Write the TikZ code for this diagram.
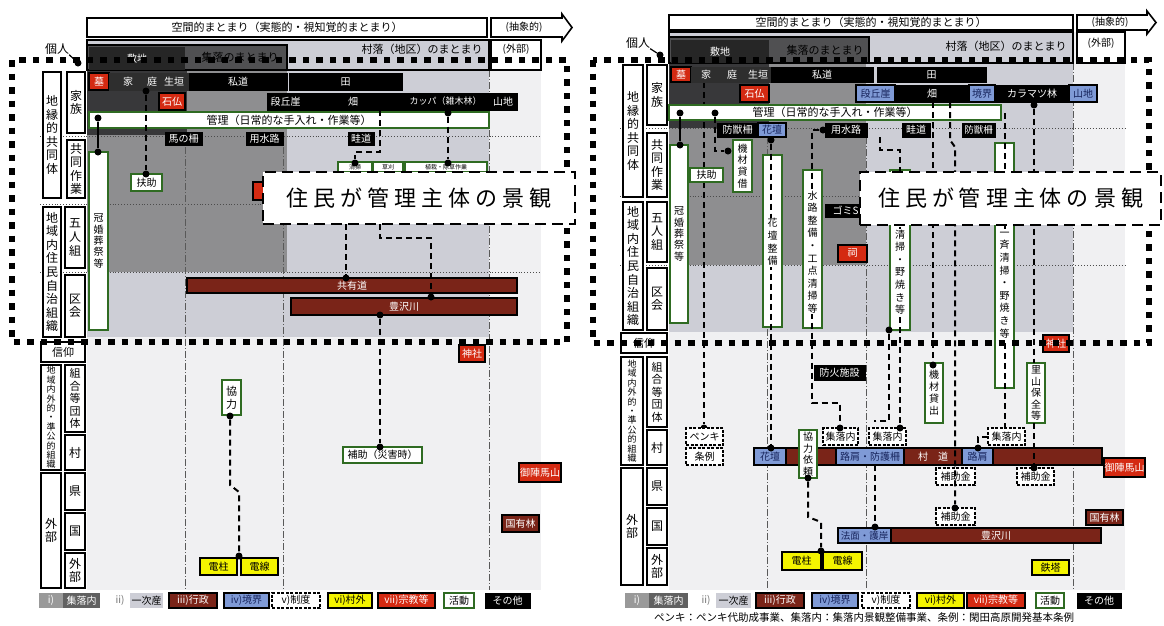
\documentclass[tikz,border=0pt]{standalone}
\usepackage{fontspec}
\setmainfont{Noto Sans CJK JP}
\definecolor{lg}{HTML}{CDCED6}
\definecolor{mg}{HTML}{8E8E90}
\definecolor{dg}{HTML}{505052}
\definecolor{ddg}{HTML}{38383A}
\definecolor{vlg}{HTML}{F0F0F2}
\definecolor{rd}{HTML}{D42A12}
\definecolor{drd}{HTML}{7A2418}
\definecolor{bl}{HTML}{7F9AD6}
\definecolor{bltx}{HTML}{17245C}
\definecolor{yl}{HTML}{F4F400}
\definecolor{gr}{HTML}{2F6B22}
\newcommand\fsm{\fontsize{10}{11}\selectfont}
\newcommand\fmd{\fontsize{11}{12}\selectfont}
\newcommand\flab{\fontsize{12}{13.6}\selectfont}
\newcommand\ftitle{\fontsize{22}{24}\selectfont}
\newcommand\kk{\kern5pt}
\newcommand\titletext{住\kk 民\kk が\kk 管\kk 理\kk 主\kk 体\kk の\kk 景\kk 観}
\makeatletter
\def\vt#1{\vbox{\vt@b#1\@nil}}
\def\vt@b#1{\ifx\@nil#1\else\hbox to 1em{\hss#1\hss}\expandafter\vt@b\fi}
\makeatother
\newcommand\bx[7]{\node[#2, minimum width={(#5-#3)*1pt}, minimum height={(#6-#4)*1pt}] (#1) at ({(#3+#5)/2},{(#4+#6)/2}) {#7};}
\tikzset{
 base/.style={inner sep=0pt, outer sep=0pt, font=\fsm},
 blk/.style={base, fill=black, draw=black, line width=1pt, text=white},
 darkb/.style={base, fill=black!82, draw=black!82, text=white},
 redb/.style={base, fill=rd, draw=black, line width=1.2pt, text=white},
 drb/.style={base, fill=drd, draw=black, line width=1.8pt, text=white},
 blub/.style={base, fill=bl, draw=black, line width=1.2pt, text=bltx},
 yelb/.style={base, fill=yl, draw=black, line width=1.8pt, text=black},
 grnb/.style={base, fill=white, draw=gr, line width=1.6pt, text=black},
 seib/.style={base, fill=white, draw=black, line width=1.5pt, dash pattern=on 3pt off 1.5pt, text=black},
 labb/.style={base, fill=white, draw=black, line width=1.6pt, text=black, font=\flab},
 dot/.style={circle, fill=black, inner sep=0pt, minimum size=7pt},
 conn/.style={line width=2pt, dash pattern=on 6pt off 4pt},
 sconn/.style={line width=1.8pt},
 gridh/.style={line width=0.9pt, dotted, black!70},
 gridv/.style={line width=0.8pt, black!65, dash pattern=on 7pt off 2pt on 1pt off 2pt},
 border/.style={line width=6.5pt, dash pattern=on 6.5pt off 7pt},
 callout/.style={fill=white, draw=black, line width=2.8pt, dash pattern=on 11pt off 6pt},
 txt/.style={inner sep=0pt, font=\fmd},
 wt/.style={inner sep=0pt, font=\fsm, text=white},
 ovl/.style={inner sep=1pt, fill=white, font=\fontsize{10}{12.6}\selectfont},
 outl/.style={line width=1.6pt},
}
\begin{document}
\begin{tikzpicture}[x=1pt,y=-1pt]
\useasboundingbox (0,0) rectangle (1164,625);
\fill[white] (0,0) rectangle (1164,625);
% ================= backgrounds =================
\fill[vlg] (87,40) rectangle (541,590);
\fill[lg] (87,40) rectangle (489,337);
\fill[mg] (87,70) rectangle (287,272);
\fill[dg] (87,45) rectangle (287,70);
\fill[ddg] (87,70) rectangle (187,135);
\fill[vlg] (669,32) rectangle (1125,590);
\fill[lg] (669,32) rectangle (1073,332);
\fill[mg] (669,63) rectangle (866,265);
\fill[dg] (669,37) rectangle (869,63);
\fill[ddg] (669,63) rectangle (769,128);
% ================= grid =================
\draw[gridh] (40,136) -- (541,136);
\draw[gridh] (40,204) -- (541,204);
\draw[gridh] (40,272) -- (541,272);
\draw[gridv] (185,135) -- (185,590);
\draw[gridv] (283,135) -- (283,590);
\draw[gridv] (489,70) -- (489,590);
\draw[gridh] (620,128) -- (1125,128);
\draw[gridh] (620,196) -- (1125,196);
\draw[gridh] (620,265) -- (1125,265);
\draw[gridv] (767,137) -- (767,590);
\draw[gridv] (866,137) -- (866,590);
\draw[gridv] (1073,63) -- (1073,590);
% ================= band outlines & header (left) =================
\draw[outl] (87,40) rectangle (489,70);
\draw[outl] (87,45) rectangle (287,70);
\bx{shikiL}{base,fill=black!85,text=white}{89}{47}{185}{70}{敷地}
\node[txt] (shuL) at (240,57) {集落のまとまり};
\node[txt] (sonL) at (422,49) {村落（地区）のまとまり};
\bx{gaiL}{base,fill=white,draw=black,line width=1.5pt}{491}{40}{541}{70}{}
\node[txt,font=\fsm] (gaiLt) at (516,49) {(外部)};
\bx{topL}{base,fill=white,draw=black,line width=1.6pt,font=\fmd}{87}{18}{487}{37}{空間的まとまり（実態的・視知覚的まとまり）}
\draw[line width=1.6pt, fill=white] (491,18) -- (562,18) -- (562,14) -- (572,27.5) -- (562,41) -- (562,37) -- (491,37) -- cycle;
\node[txt,font=\fsm] (absL) at (524,27.5) {(抽象的)};
\node[txt,font=\flab] (koL) at (57,49) {個人};
% ================= band outlines & header (right) =================
\draw[outl] (669,32) rectangle (1073,63);
\draw[outl] (669,37) rectangle (869,63);
\bx{shikiR}{base,fill=black!85,text=white}{671}{40}{769}{63}{敷地}
\node[txt] (shuR) at (825,50) {集落のまとまり};
\node[txt] (sonR) at (1006,46) {村落（地区）のまとまり};
\bx{gaiR}{base,fill=white,draw=black,line width=1.5pt}{1077}{32}{1125}{63}{}
\node[txt,font=\fsm] (gaiRt) at (1101,43) {(外部)};
\bx{topR}{base,fill=white,draw=black,line width=1.6pt,font=\fmd}{669}{15}{1073}{30}{空間的まとまり（実態的・視知覚的まとまり）}
\draw[line width=1.6pt, fill=white] (1077,15) -- (1147,15) -- (1147,11) -- (1156,22.5) -- (1147,34) -- (1147,30) -- (1077,30) -- cycle;
\node[txt,font=\fsm] (absR) at (1110,22.5) {(抽象的)};
\node[txt,font=\flab] (koR) at (638,43) {個人};
% ================= under connectors =================
\coordinate (cR1) at (704,82);
\node[dot] (dR1) at (704,428) {};
\draw[conn] (cR1) -- (dR1);
% ================= left column labels =================
\bx{L1}{labb}{43}{72}{61}{198}{\vt{地縁的共同体}}
\bx{L2}{labb}{67}{72}{85}{133}{\vt{家族}}
\bx{L3}{labb}{67}{140}{85}{198}{\vt{共同作業}}
\bx{L4}{labb}{43}{207}{61}{337}{\vt{地域内住民自治組織}}
\bx{L5}{labb}{65}{207}{85}{268}{\vt{五人組}}
\bx{L6}{labb}{65}{275}{85}{337}{\vt{区会}}
\bx{L7}{labb,font=\fmd}{41}{342}{85}{362}{信仰}
\bx{L8}{labb,font=\fontsize{9}{9.4}\selectfont}{41}{365}{61}{470}{\vt{地域内外的・準公的組織}}
\bx{L9}{labb,font=\fontsize{11}{12.6}\selectfont}{65}{365}{85}{432}{\vt{組合等団体}}
\bx{L10}{labb}{65}{435}{85}{470}{\vt{村}}
\bx{L11}{labb}{41}{473}{61}{588}{\vt{外部}}
\bx{L12}{labb}{65}{473}{85}{510}{\vt{県}}
\bx{L13}{labb}{65}{513}{85}{550}{\vt{国}}
\bx{L14}{labb}{65}{553}{85}{588}{\vt{外部}}
% ================= right column labels =================
\bx{R1}{labb}{623}{65}{643}{197}{\vt{地縁的共同体}}
\bx{R2}{labb}{647}{65}{667}{125}{\vt{家族}}
\bx{R3}{labb}{647}{133}{667}{197}{\vt{共同作業}}
\bx{R4}{labb}{623}{202}{643}{330}{\vt{地域内住民自治組織}}
\bx{R5}{labb}{647}{202}{667}{262}{\vt{五人組}}
\bx{R6}{labb}{647}{268}{667}{330}{\vt{区会}}
\bx{R7}{labb,font=\fmd}{621}{333}{667}{353}{信仰}
\bx{R8}{labb,font=\fontsize{9}{9.4}\selectfont}{621}{357}{643}{465}{\vt{地域内外的・準公的組織}}
\bx{R9}{labb,font=\fontsize{11}{12.6}\selectfont}{647}{357}{667}{427}{\vt{組合等団体}}
\bx{R10}{labb}{647}{430}{667}{465}{\vt{村}}
\bx{R11}{labb}{621}{468}{643}{585}{\vt{外部}}
\bx{R12}{labb}{647}{468}{667}{505}{\vt{県}}
\bx{R13}{labb}{647}{508}{667}{545}{\vt{国}}
\bx{R14}{labb}{647}{548}{667}{585}{\vt{外部}}
% ================= left boxes =================
\bx{hakaL}{redb}{89}{73}{109}{90}{墓}
\bx{ieL}{darkb}{109}{73}{189}{90}{}
\node[wt] (ieLa) at (128,81.5) {家};
\node[wt] (ieLb) at (152,81.5) {庭};
\node[wt] (ieLc) at (174,81.5) {生垣};
\bx{shidoL}{blk}{189}{73}{287}{90}{私道}
\bx{taL}{blk}{289}{73}{402}{90}{田}
\bx{sekiL}{redb}{159}{93}{185}{110}{石仏}
\bx{danL}{blk}{267}{93}{304}{110}{段丘崖}
\bx{hataL}{blk}{304}{93}{402}{110}{畑}
\bx{kappaL}{blk,font=\fontsize{9}{10}\selectfont}{402}{93}{489}{110}{カッパ（雑木林）}
\bx{sanL}{blk}{489}{93}{517}{110}{山地}
\bx{kanriL}{grnb,font=\fmd}{89}{112}{489}{128}{管理（日常的な手入れ・作業等）}
\bx{umaL}{blk}{165}{132}{202}{145}{馬の柵}
\bx{yoL}{blk}{246}{132}{283}{145}{用水路}
\bx{azeL}{blk}{348}{132}{374}{145}{畦道}
\bx{kanL}{grnb,font=\fontsize{10}{11.4}\selectfont}{89}{152}{108}{330}{\vt{冠婚葬祭等}}
\bx{fujoL}{grnb}{131}{174}{162}{191}{扶助}
\bx{g1L}{grnb,font=\fontsize{6}{7}\selectfont}{338}{162}{372}{172}{清掃}
\bx{g2L}{grnb,font=\fontsize{6}{7}\selectfont}{373}{162}{403}{172}{草刈}
\bx{g3L}{grnb,font=\fontsize{6}{7}\selectfont}{405}{162}{487}{172}{植栽・除草作業}
\bx{redpL}{redb}{253}{182}{272}{200}{}
\bx{kyoyuL}{drb}{187}{278}{517}{293}{共有道}
\bx{toyoL}{drb}{291}{298}{517}{315}{豊沢川}
\bx{jinjaL}{redb}{459}{345}{485}{362}{神社}
\bx{kyoL}{grnb,font=\fontsize{11}{13}\selectfont}{222}{380}{241}{415}{\vt{協力}}
\bx{hojoL}{grnb}{343}{447}{422}{463}{補助（災害時）}
\bx{denchuL}{yelb}{200}{558}{237}{575}{電柱}
\bx{densenL}{yelb}{241}{558}{278}{575}{電線}
\bx{gojinL}{redb}{519}{463}{561}{482}{御陣馬山}
\bx{kokuL}{drb}{502}{515}{539}{532}{国有林}
% ================= right boxes =================
\bx{hakaR}{redb}{671}{67}{691}{82}{墓}
\bx{ieR}{darkb}{691}{67}{771}{82}{}
\node[wt] (ieRa) at (706,74.5) {家};
\node[wt] (ieRb) at (732,74.5) {庭};
\node[wt] (ieRc) at (758,74.5) {生垣};
\bx{shidoR}{blk}{771}{67}{873}{82}{私道}
\bx{taR}{blk}{877}{67}{986}{82}{田}
\bx{sekiR}{redb}{740}{85}{769}{102}{石仏}
\bx{danR}{blub}{856}{85}{895}{102}{段丘崖}
\bx{hataR}{blk}{895}{85}{969}{102}{畑}
\bx{kyokaiR}{blub}{969}{85}{995}{102}{境界}
\bx{karaR}{blk}{995}{85}{1069}{102}{カラマツ林}
\bx{sanR}{blub}{1069}{85}{1097}{102}{山地}
\bx{kanriR}{grnb,font=\fmd}{669}{105}{1001}{120}{管理（日常的な手入れ・作業等）}
\bx{bojuR1}{blk}{717}{123}{758}{137}{防獣柵}
\bx{kadanR}{blub}{758}{123}{786}{137}{花壇}
\bx{yoR}{blk}{825}{123}{867}{137}{用水路}
\bx{azeR}{blk}{902}{123}{930}{137}{畦道}
\bx{bojuR2}{blk,font=\fontsize{9.5}{10}\selectfont}{962}{123}{995}{137}{防獣柵}
\bx{kanR}{grnb,font=\fontsize{10}{11.4}\selectfont}{670}{145}{688}{323}{\vt{冠婚葬祭等}}
\bx{fujoR}{grnb}{690}{168}{723}{182}{扶助}
\bx{kizaiR}{grnb,font=\fontsize{10}{11.7}\selectfont}{733}{140}{752}{192}{\vt{機材貸借}}
\bx{kadanSR}{grnb}{763}{155}{782}{327}{}
\bx{suiroR}{grnb}{803}{170}{822}{328}{}
\bx{gomiR}{blk}{825}{204}{866}{217}{ゴミS}
\bx{hokoraR}{redb}{838}{245}{867}{262}{祠}
\bx{kusa1R}{grnb}{890}{170}{910}{330}{}
\bx{kusa2R}{grnb}{995}{143}{1014}{388}{}
\bx{jinjaR}{redb}{1043}{335}{1069}{352}{神社}
\bx{bokaR}{blk}{814}{365}{865}{380}{防火施設}
\bx{kizai2R}{grnb,font=\fontsize{10}{12}\selectfont}{925}{363}{943}{423}{\vt{機材貸出}}
\bx{satoR}{grnb,font=\fontsize{10}{11.5}\selectfont}{1027}{363}{1045}{423}{\vt{里山保全等}}
\bx{penkiR}{seib}{686}{428}{723}{445}{ペンキ}
\bx{joreiR}{seib}{686}{448}{723}{465}{条例}
\bx{shu1R}{seib}{823}{428}{858}{445}{集落内}
\bx{shu2R}{seib}{869}{428}{906}{445}{集落内}
\bx{shu3R}{seib}{988}{428}{1025}{445}{集落内}
\bx{sd1}{blub}{754}{448}{786}{465}{花壇}
\bx{sd2}{drb}{786}{448}{836}{465}{}
\bx{sd3}{blub}{836}{448}{904}{465}{路肩・防護柵}
\bx{sd4}{drb}{904}{448}{962}{465}{村\quad 道}
\bx{sd5}{blub}{962}{448}{993}{465}{路肩}
\bx{sd6}{drb}{993}{448}{1102}{465}{}
\draw[line width=1.8pt] (sd1.north west) rectangle (sd6.south east);
\bx{kyoiR}{grnb,font=\fontsize{10}{11.5}\selectfont}{799}{430}{817}{478}{\vt{協力依頼}}
\bx{hojo1R}{seib}{936}{468}{975}{485}{補助金}
\bx{hojo2R}{seib}{936}{508}{975}{525}{補助金}
\bx{hojo3R}{seib}{1017}{468}{1054}{485}{補助金}
\bx{gojinR}{redb}{1104}{458}{1145}{477}{御陣馬山}
\bx{kokuR}{drb}{1086}{510}{1123}{525}{国有林}
\bx{norR}{blub,font=\fontsize{9.5}{10}\selectfont}{838}{528}{891}{543}{法面・護岸}
\bx{toyoR}{drb}{891}{528}{1101}{543}{豊沢川}
\draw[line width=1.8pt] (norR.north west) rectangle (toyoR.south east);
\bx{denchuR}{yelb}{782}{552}{821}{570}{電柱}
\bx{densenR}{yelb}{823}{552}{862}{570}{電線}
\bx{tetR}{yelb}{1032}{560}{1069}{575}{鉄塔}
% ================= left connectors =================
\node[dot] (koLd) at (78,63) {};
\draw[line width=1.2pt] (koL.south east) -- (koLd);
\node[dot] (dL1) at (98,118) {};
\node[dot] (dL2) at (98,152) {};
\draw[sconn] (dL1) -- (dL2);
\node[dot] (dL3) at (146,91) {};
\node[dot] (dL4) at (146,174) {};
\draw[conn] (dL3) -- (dL4);
\coordinate (cL1) at (380,110);
\coordinate (cL2) at (380,152);
\coordinate (cL3) at (355,152);
\node[dot] (dL5) at (355,163) {};
\draw[conn] (cL1) -- (cL2) -- (cL3) -- (dL5);
\node[dot] (dL6) at (448,113) {};
\node[dot] (dL7) at (448,163) {};
\draw[conn] (dL6) -- (dL7);
\coordinate (cL4) at (346,224);
\node[dot] (dL8) at (346,278) {};
\draw[conn] (cL4) -- (dL8);
\coordinate (cL5) at (380,224);
\coordinate (cL6) at (380,238);
\coordinate (cL7) at (431,238);
\node[dot] (dL9) at (431,297) {};
\draw[conn] (cL5) -- (cL6) -- (cL7) -- (dL9);
\node[dot] (dL10) at (380,315) {};
\node[dot] (dL11) at (380,447) {};
\draw[conn] (dL10) -- (dL11);
\node[dot] (dL12) at (230,416) {};
\coordinate (cL8) at (230,485);
\coordinate (cL9) at (239,492);
\node[dot] (dL13) at (239,556) {};
\draw[conn] (dL12) -- (cL8) -- (cL9) -- (dL13);
% ================= right connectors =================
\node[dot] (koRd) at (660,55) {};
\draw[line width=1.2pt] (koR.south east) -- (koRd);
\node[dot] (dR2) at (680,113) {};
\node[dot] (dR3) at (680,145) {};
\draw[sconn] (dR2) -- (dR3);
\node[dot] (dR4) at (715,113) {};
\coordinate (cR4) at (715,151);
\node[dot] (dR5) at (728,151) {};
\draw[conn] (dR4) -- (cR4) -- (dR5);
\node[dot] (dR6) at (771,140) {};
\node[dot] (dR7) at (771,448) {};
\draw[conn] (dR6) -- (dR7);
\node[dot] (dR8) at (823,130) {};
\coordinate (cR8a) at (812,130);
\coordinate (cR8b) at (812,403);
\coordinate (cR8c) at (840,403);
\node[dot] (dR9) at (840,428) {};
\draw[conn] (dR8) -- (cR8a) -- (cR8b) -- (cR8c) -- (dR9);
\coordinate (cR9a) at (880,137);
\coordinate (cR9b) at (880,150);
\coordinate (cR9c) at (900,150);
\node[dot] (dR10) at (900,428) {};
\draw[conn] (cR9a) -- (cR9b) -- (cR9c) -- (dR10);
\node[dot] (dR11) at (889,330) {};
\coordinate (cR11a) at (889,421);
\coordinate (cR11b) at (874,421);
\draw[conn] (dR11) -- (cR11a) -- (cR11b);
\coordinate (cR12) at (933,102);
\node[dot] (dR12) at (933,365) {};
\draw[conn] (cR12) -- (dR12);
\coordinate (cR13a) at (950,102);
\coordinate (cR13b) at (950,140);
\coordinate (cR13c) at (955,147);
\node[dot] (dR13) at (955,508) {};
\draw[conn] (cR13a) -- (cR13b) -- (cR13c) -- (dR13);
\coordinate (cR14a) at (1005,113);
\coordinate (cR14b) at (1005,428);
\draw[conn] (cR14a) -- (cR14b);
\node[dot] (dR15) at (1034,105) {};
\coordinate (cR15) at (1034,363);
\draw[conn] (dR15) -- (cR15);
\coordinate (cR16) at (1034,423);
\node[dot] (dR16) at (1034,468) {};
\draw[conn] (cR16) -- (dR16);
\node[dot] (dR17) at (978,448) {};
\draw[conn] (shu3R.west) -| (dR17);
\node[dot] (dR18) at (808,478) {};
\coordinate (cR18a) at (808,517);
\coordinate (cR18b) at (821,522);
\node[dot] (dR19) at (821,551) {};
\draw[conn] (dR18) -- (cR18a) -- (cR18b) -- (dR19);
\coordinate (cR20) at (875,465);
\node[dot] (dR20) at (875,527) {};
\draw[conn] (cR20) -- (dR20);
% ================= overlay texts on tall boxes =================
\node[ovl] (kadanT) at (772.5,242) {\vt{花壇整備}};
\node[ovl] (suiroT) at (812.5,252) {\vt{水路整備・工点清掃等}};
\node[ovl] (kusa1T) at (900,272) {\vt{清掃・野焼き等}};
\node[ovl] (kusa2T) at (1004.5,285) {\vt{一斉清掃・野焼き等}};
% ================= dotted borders =================
\draw[border] (12,60) rectangle (567,342);
\draw[border] (593,60) rectangle (1149,343);
% ================= callouts =================
\bx{calL}{base,callout,font=\ftitle}{263}{172}{575}{224}{\titletext}
\bx{calR}{base,callout,font=\ftitle}{860}{172}{1161}{225}{\titletext}
% ================= legends =================
\bx{lgL1a}{base,fill=black!40,text=white}{39}{593}{63}{608}{i)}
\bx{lgL1b}{base,fill=black!62,text=white}{63}{593}{100}{608}{集落内}
\node[txt,font=\fsm,text=black!55] (lgL2a) at (120,600.5) {ii)};
\bx{lgL2b}{base,fill=lg}{130}{593}{163}{608}{一次産}
\bx{lgL3}{drb}{169}{593}{217}{608}{iii)行政}
\bx{lgL4}{blub}{224}{593}{269}{608}{iv)境界}
\bx{lgL5}{seib}{272}{593}{320}{608}{v)制度}
\bx{lgL6}{yelb}{328}{593}{372}{608}{vi)村外}
\bx{lgL7}{redb}{378}{593}{435}{608}{vii)宗教等}
\bx{lgL8}{grnb}{444}{593}{474}{608}{活動}
\bx{lgL9}{blk}{485}{593}{530}{608}{その他}
\bx{lgR1a}{base,fill=black!40,text=white}{625}{593}{649}{608}{i)}
\bx{lgR1b}{base,fill=black!62,text=white}{649}{593}{688}{608}{集落内}
\node[txt,font=\fsm,text=black!55] (lgR2a) at (706,600.5) {ii)};
\bx{lgR2b}{base,fill=lg}{716}{593}{751}{608}{一次産}
\bx{lgR3}{drb}{756}{593}{804}{608}{iii)行政}
\bx{lgR4}{blub}{812}{593}{858}{608}{iv)境界}
\bx{lgR5}{seib}{862}{593}{910}{608}{v)制度}
\bx{lgR6}{yelb}{917}{593}{964}{608}{vi)村外}
\bx{lgR7}{redb}{967}{593}{1025}{608}{vii)宗教等}
\bx{lgR8}{grnb}{1036}{593}{1064}{608}{活動}
\bx{lgR9}{blk}{1077}{593}{1121}{608}{その他}
\node[inner sep=0pt, anchor=west, font=\fontsize{10.5}{11}\selectfont] (foot) at (654,618) {ペンキ：ペンキ代助成事業、集落内：集落内景観整備事業、条例：閑田高原開発基本条例};
\end{tikzpicture}
\end{document}
